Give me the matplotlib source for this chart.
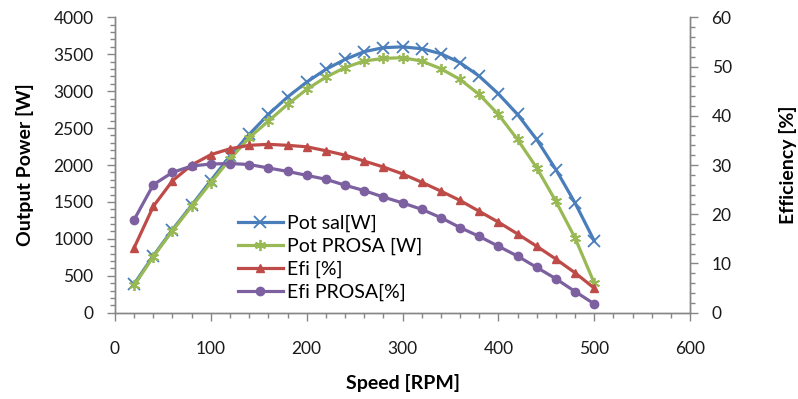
import matplotlib
matplotlib.use("Agg")
import matplotlib.pyplot as plt
from matplotlib.ticker import MultipleLocator

speed = [20, 40, 60, 80, 100, 120, 140, 160, 180, 200, 220, 240, 260,
         280, 300, 320, 340, 360, 380, 400, 420, 440, 460, 480, 500]
pot_sal = [390, 770, 1125, 1455, 1790, 2120, 2414, 2685, 2920, 3123, 3295,
           3430, 3535, 3589, 3600, 3575, 3508, 3386, 3204, 2965, 2685, 2346,
           1939, 1487, 975]
pot_prosa = [370, 760, 1110, 1440, 1760, 2080, 2369, 2594, 2820, 3024, 3190,
             3320, 3408, 3444, 3453, 3408, 3304, 3159, 2956, 2685, 2346,
             1962, 1509, 1013, 403]
efi = [13.2, 21.6, 26.8, 30.0, 32.1, 33.3, 34.0, 34.2, 34.0, 33.7, 32.9,
       32.0, 30.8, 29.6, 28.2, 26.5, 24.7, 22.8, 20.6, 18.4, 16.0, 13.5,
       10.9, 8.1, 5.0]
efi_prosa = [18.9, 26.0, 28.5, 29.8, 30.2, 30.3, 30.1, 29.4, 28.7, 27.9,
             27.1, 25.9, 24.8, 23.5, 22.3, 21.0, 19.3, 17.3, 15.5, 13.5,
             11.5, 9.2, 6.9, 4.3, 1.8]

plt.rcParams['font.family'] = ['Lato', 'DejaVu Sans']

fig = plt.figure(figsize=(7.98, 3.99), dpi=100)
ax = fig.add_axes([0.1441, 0.2163, 0.7206, 0.7403])
ax2 = ax.twinx()

c_blue = '#4A7EBB'
c_green = '#98B954'
c_red = '#BE4B48'
c_purple = '#7D60A0'

l1, = ax.plot(speed, pot_sal, color=c_blue, lw=2.3, marker='x', ms=8, mew=1.3,
              label='Pot sal[W]')
l2, = ax.plot(speed, pot_prosa, color=c_green, lw=2.3, marker=(6, 2, 0), ms=8,
              mew=1.3, label='Pot PROSA [W]')
l3, = ax2.plot(speed, efi, color=c_red, lw=2.3, marker='^', ms=6,
               label='Efi [%]')
l4, = ax2.plot(speed, efi_prosa, color=c_purple, lw=2.3, marker='o', ms=6,
               label='Efi PROSA[%]')

ax.set_xlim(0, 600)
ax.set_ylim(0, 4000)
ax2.set_ylim(0, 60)
ax.xaxis.set_major_locator(MultipleLocator(100))
ax.xaxis.set_minor_locator(MultipleLocator(20))
ax.yaxis.set_major_locator(MultipleLocator(500))
ax.yaxis.set_minor_locator(MultipleLocator(100))
ax2.yaxis.set_major_locator(MultipleLocator(10))
ax2.yaxis.set_minor_locator(MultipleLocator(2))

for a in (ax, ax2):
    a.spines['top'].set_visible(False)
    for s in ('left', 'right', 'bottom'):
        a.spines[s].set_color('#868686')
        a.spines[s].set_linewidth(1.0)
    a.tick_params(which='both', color='#868686', labelsize=12.5,
                  labelcolor='#1a1a1a', width=1.0)
    a.tick_params(which='major', length=5.5)
    a.tick_params(which='minor', length=3.5)

ax.tick_params(axis='x', pad=15)
ax.tick_params(axis='y', pad=10)
ax2.tick_params(axis='y', pad=10)

ax.set_xlabel('Speed [RPM]', fontsize=14, fontweight='bold', labelpad=12)
ax.set_ylabel('Output Power [W]', fontsize=14, fontweight='bold', labelpad=14)
ax2.set_ylabel('Efficiency [%]', fontsize=14, fontweight='bold', labelpad=34)

leg = ax.legend(handles=[l1, l2, l3, l4], loc='upper left',
                bbox_to_anchor=(0.214, 0.331), frameon=False, fontsize=14,
                handlelength=2.3, handletextpad=0.2, labelspacing=0.28,
                borderpad=0, borderaxespad=0)

fig.savefig('out.png', dpi=100)
